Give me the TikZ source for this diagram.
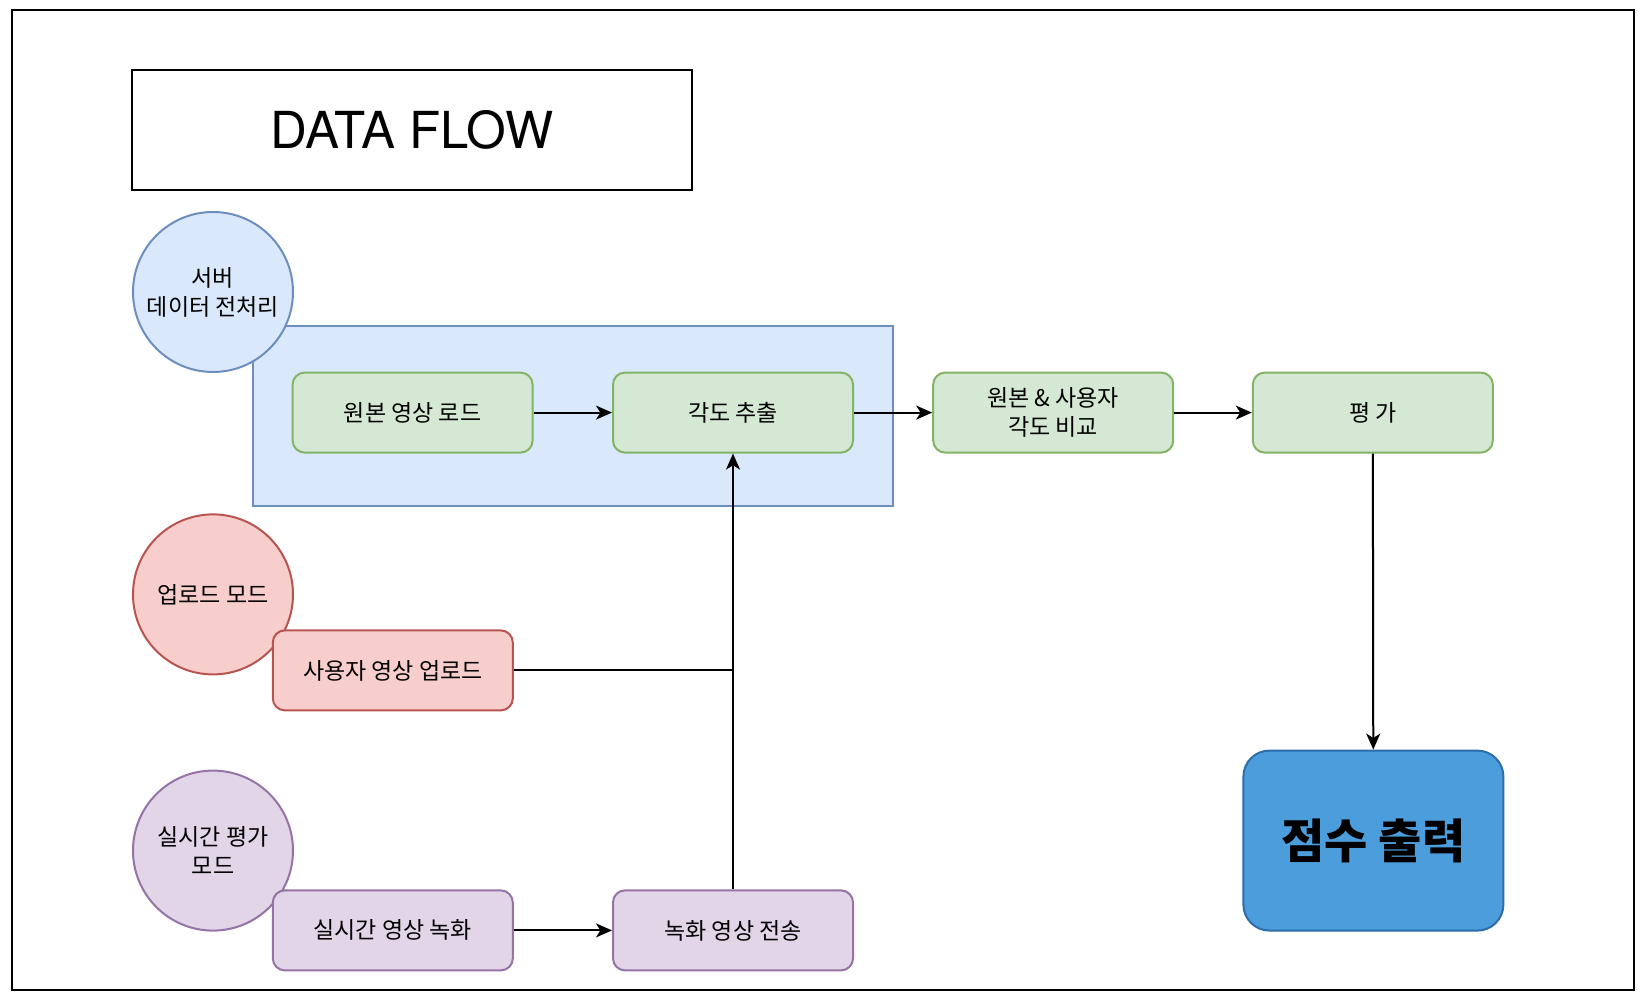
\documentclass[tikz,border=0pt]{standalone}
\usepackage{fontspec}
\setmainfont{Noto Sans CJK KR}
\newfontfamily\heros{TeX Gyre Heros}
\usepackage{tikz}
\usepackage{xcolor}
\usetikzlibrary{arrows.meta,positioning,calc}
\definecolor{ink}{HTML}{000000}
\definecolor{srvfill}{HTML}{DAE8FC}
\definecolor{srvline}{HTML}{6C8EBF}
\definecolor{procfill}{HTML}{D5E8D4}
\definecolor{procline}{HTML}{82B366}
\definecolor{uplfill}{HTML}{F8CECC}
\definecolor{uplline}{HTML}{B85450}
\definecolor{livefill}{HTML}{E1D5E7}
\definecolor{liveline}{HTML}{9673A6}
\definecolor{scorefill}{HTML}{4B9DDB}
\definecolor{scoreline}{HTML}{2C6DAA}

\begin{document}
\begin{tikzpicture}[x=1pt,y=-1pt,line width=1pt,
    font=\fontsize{11.5}{14.5}\selectfont,
    >={Stealth[length=8pt,width=7pt,inset=2.2pt]},
    modecircle/.style={circle,minimum size=80pt,inner sep=0pt,align=center},
    flowbox/.style={rounded corners=6pt,minimum width=120pt,minimum height=40pt,
      inner sep=0pt,align=center},
    greenbox/.style={flowbox,fill=procfill,draw=procline},
    redbox/.style={flowbox,fill=uplfill,draw=uplline},
    purplebox/.style={flowbox,fill=livefill,draw=liveline}]
  \useasboundingbox (0,0) rectangle (823,502);
  \draw[draw=ink] (6,5) rectangle (817,495);
  % title
  \node[draw=ink,minimum width=280pt,minimum height=60pt,inner sep=0pt,
    font=\heros\fontsize{25.5}{28}\selectfont] (title) at (206,65) {DATA FLOW};
  % server preprocessing
  \node[fill=srvfill,draw=srvline,minimum width=320pt,minimum height=90pt,
    inner sep=0pt] (srvarea) at (286.5,208) {};
  \node[modecircle,fill=srvfill,draw=srvline] (srv) at (106.5,146)
    {서버\\데이터 전처리};
  \node[greenbox] (load) at (206.3,206.3) {원본 영상 로드};
  \node[greenbox] (angle) at (366.5,206.3) {각도 추출};
  \node[greenbox] (compare) at (526.6,206.3) {원본 \& 사용자\\각도 비교};
  \node[greenbox] (eval) at (686.4,206.3) {평 가};
  % upload mode
  \node[modecircle,fill=uplfill,draw=uplline] (uplmode) at (106.5,297.2)
    {업로드 모드};
  \node[redbox] (upl) at (196.4,335.2) {사용자 영상 업로드};
  % live mode
  \node[modecircle,fill=livefill,draw=liveline] (livemode) at (106.5,425.3)
    {실시간 평가\\모드};
  \node[purplebox] (rec) at (196.4,465.2) {실시간 영상 녹화};
  \node[purplebox] (send) at (366.5,465.2) {녹화 영상 전송};
  % result
  \node[rounded corners=13pt,fill=scorefill,draw=scoreline,minimum width=130pt,
    minimum height=90pt,inner sep=0pt,font=\fontsize{23.5}{26}\selectfont\bfseries]
    (score) at (686.7,420.3) {점수 출력};
  % connectors
  \coordinate (join) at (angle.south |- upl.east);
  \draw[->] (load) -- (angle);
  \draw[->] (angle) -- (compare);
  \draw[->] (compare) -- (eval);
  \draw[->] (eval) -- (score);
  \draw (upl) -- (join);
  \draw[->] (rec) -- (send);
  \draw[->] (send) -- (angle);
\end{tikzpicture}
\end{document}
